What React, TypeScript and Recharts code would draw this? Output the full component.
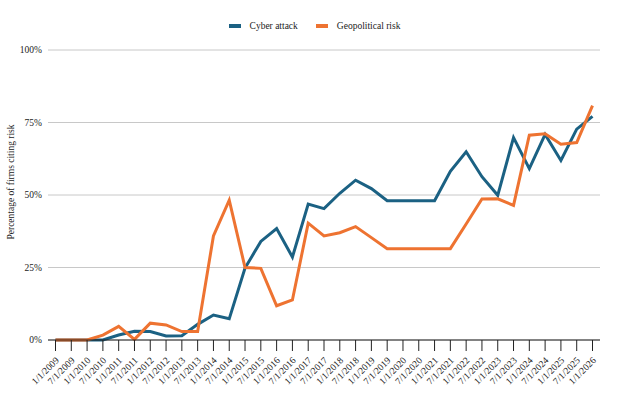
import React from 'react';
import { LineChart, Line, XAxis, YAxis, CartesianGrid, Legend } from 'recharts';

const dates = [
  '1/1/2009', '7/1/2009', '1/1/2010', '7/1/2010', '1/1/2011', '7/1/2011', '1/1/2012',
  '7/1/2012', '1/1/2013', '7/1/2013', '1/1/2014', '7/1/2014', '1/1/2015', '7/1/2015',
  '1/1/2016', '7/1/2016', '1/1/2017', '7/1/2017', '1/1/2018', '7/1/2018', '1/1/2019',
  '7/1/2019', '1/1/2020', '7/1/2020', '1/1/2021', '7/1/2021', '1/1/2022', '7/1/2022',
  '1/1/2023', '7/1/2023', '1/1/2024', '7/1/2024', '1/1/2025', '7/1/2025', '1/1/2026',
];

const cyberAttack = [
  0, 0, 0, 0, 1.7, 3.0, 2.9, 1.4, 1.5, 5.4, 8.6, 7.3, 24.8, 34.0, 38.4, 28.6, 46.9,
  45.3, 50.6, 55.1, 52.2, 48.0, 48.0, 48.0, 48.0, 58.2, 64.9, 56.3, 49.9, 69.8, 59.1,
  70.9, 61.9, 72.7, 77.1,
];

const geopoliticalRisk = [
  0, 0, 0, 1.7, 4.7, 0.2, 5.8, 5.2, 2.9, 2.9, 35.9, 48.2, 25.0, 24.7, 11.8, 13.8, 40.3,
  35.9, 37.0, 39.1, 35.3, 31.5, 31.5, 31.5, 31.5, 31.5, 40.0, 48.6, 48.7, 46.4, 70.6,
  71.1, 67.5, 68.1, 80.8,
];

const yTicks = [0, 25, 50, 75, 100];

const BLUE = '#1b6183';
const ORANGE = '#ee7331';
const FONT = 'Liberation Serif';

const data = dates.map((d, i) => ({
  date: d,
  cyber: cyberAttack[i],
  geo: geopoliticalRisk[i],
}));

function DateTick({ x, y, payload }: any) {
  return (
    <g transform={`translate(${x + 4},${y + 8})`}>
      <text
        textAnchor="end"
        transform="rotate(-45)"
        style={{ fontSize: 9.5, fontFamily: FONT, fill: '#222' }}
      >
        {payload.value}
      </text>
    </g>
  );
}

function LegendBox({ payload }: any) {
  return (
    <div
      style={{
        display: 'flex',
        justifyContent: 'center',
        gap: 18,
        fontFamily: FONT,
        fontSize: 9.5,
        color: '#222',
      }}
    >
      {(payload || []).map((p: any) => (
        <div key={p.value} style={{ display: 'flex', alignItems: 'center' }}>
          <span
            style={{
              display: 'inline-block',
              width: 12,
              height: 4,
              background: p.color,
              marginRight: 9,
            }}
          />
          {p.value}
        </div>
      ))}
    </div>
  );
}

function YLabel() {
  return (
    <text
      x={14}
      y={182}
      transform="rotate(-90, 14, 182)"
      textAnchor="middle"
      style={{ fontSize: 9.5, fontFamily: FONT, fill: '#222' }}
    >
      Percentage of firms citing risk
    </text>
  );
}

export default function App() {
  return (
    <div style={{ position: 'absolute', left: 0, top: 0, background: '#fff', fontFamily: FONT }}>
      <LineChart
        width={621}
        height={406}
        data={data}
        margin={{ top: 10, right: 21, bottom: 6, left: 8 }}
        style={{ fontFamily: FONT }}
      >
        <CartesianGrid vertical={false} stroke="#c8c8c8" />
        <Legend
          verticalAlign="top"
          height={40}
          content={<LegendBox />}
          wrapperStyle={{ top: 21, left: 4, width: 621 }}
        />
        <XAxis
          dataKey="date"
          interval={0}
          padding={{ left: 7.5, right: 7.5 }}
          tickSize={11}
          tickMargin={2}
          stroke="#222"
          tick={<DateTick />}
          height={60}
        />
        <YAxis
          domain={[0, 100]}
          ticks={yTicks}
          width={40}
          axisLine={false}
          tickLine={false}
          tickSize={4}
          tickMargin={2}
          tickFormatter={(v) => `${v}%`}
          tick={{ fontSize: 9.5, fontFamily: FONT, fill: '#222' }}
          label={<YLabel />}
        />
        <Line
          name="Cyber attack"
          dataKey="cyber"
          stroke={BLUE}
          strokeWidth={3}
          dot={false}
          isAnimationActive={false}
        />
        <Line
          name="Geopolitical risk"
          dataKey="geo"
          stroke={ORANGE}
          strokeWidth={3}
          dot={false}
          isAnimationActive={false}
        />
      </LineChart>
    </div>
  );
}
